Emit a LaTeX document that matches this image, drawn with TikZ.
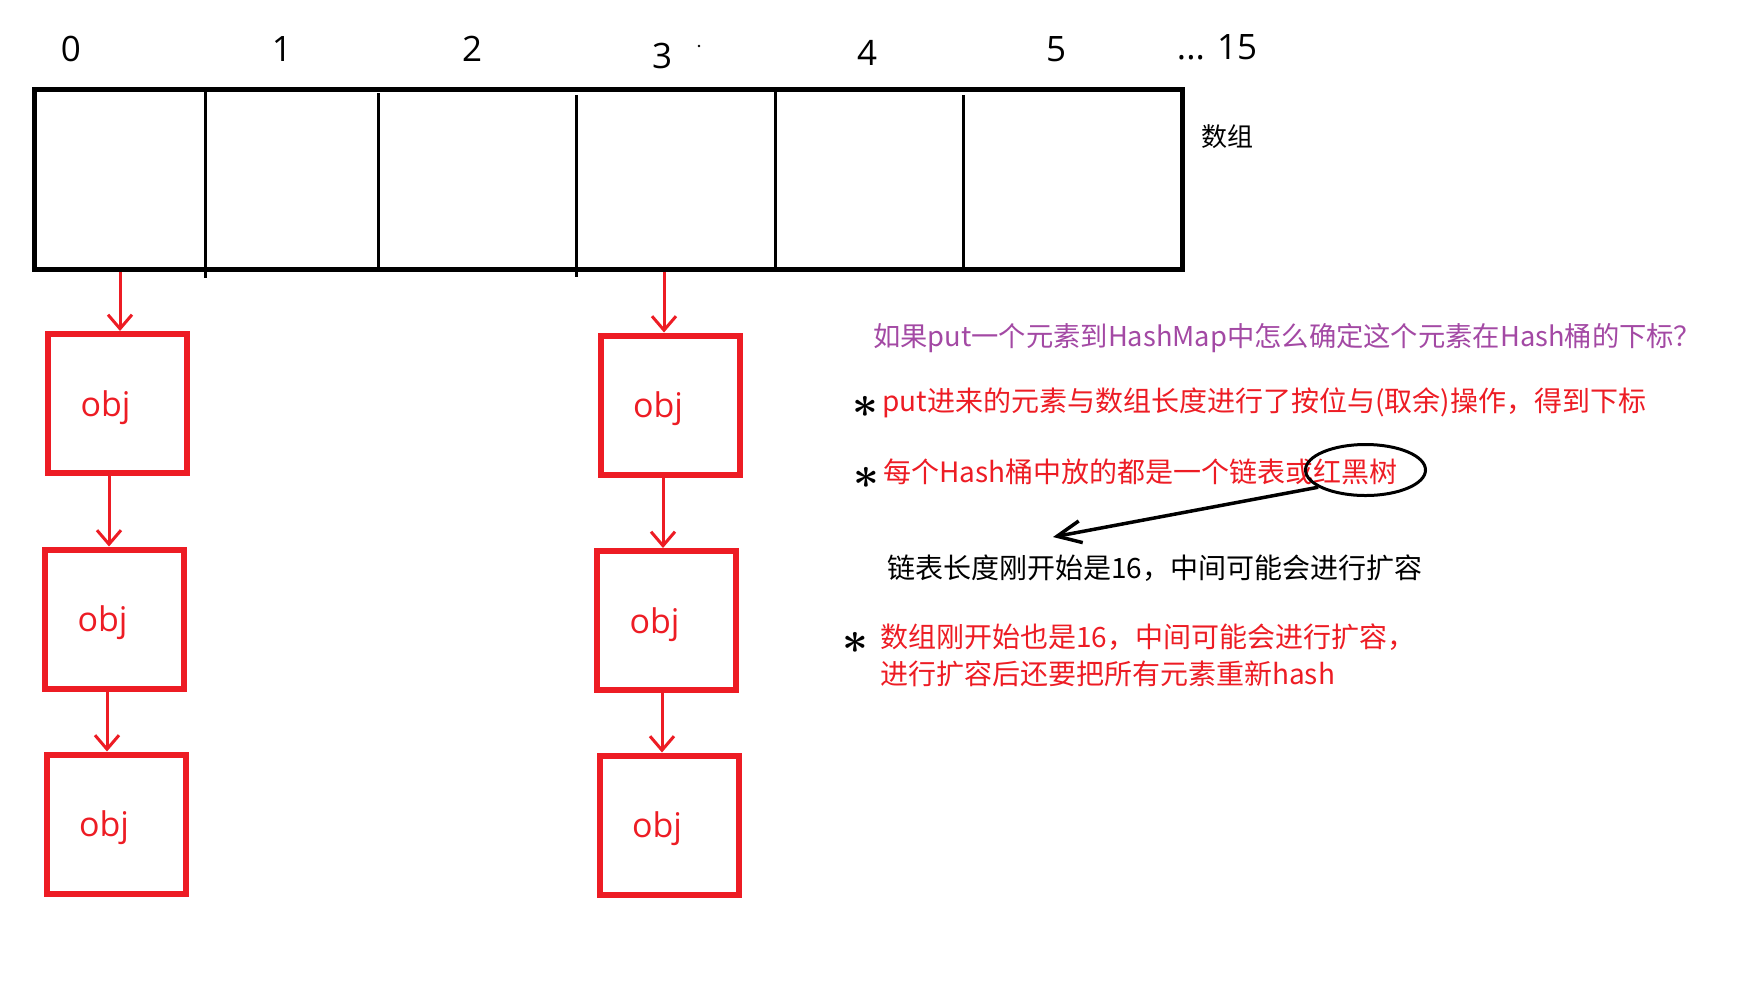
\documentclass[tikz,border=0pt]{standalone}
\usepackage{fontspec}
\usepackage{xcolor}
\usepackage{tikz}
\usetikzlibrary{arrows.meta,shapes.geometric,calc}

\newfontfamily\cjk{Noto Sans CJK SC}
\newfontfamily\uifont{Open Sans}
\definecolor{hmred}{RGB}{237,28,36}
\definecolor{hmpurple}{RGB}{163,73,164}

\begin{document}
\begin{tikzpicture}[
  x=1pt, y=-1pt,
  arraybox/.style={
    rectangle,
    draw=black,
    line width=5pt,
    minimum width=1148pt,
    minimum height=180pt,
    inner sep=0pt
  },
  divider/.style={line width=3pt},
  idx/.style={font=\uifont\fontsize{35}{40}\selectfont, inner sep=0pt},
  objbox/.style={
    rectangle,
    draw=hmred, line width=6pt,
    minimum width=139pt, minimum height=139pt,
    inner sep=0pt
  },
  objtext/.style={font=\uifont\fontsize{34}{40}\selectfont, text=hmred, inner sep=0pt},
  redarrow/.style={-{Straight Barb[length=14pt, width=24pt]}, hmred, line width=3pt},
  tiparrow/.style={-{Straight Barb[length=24pt, width=22pt]}, black, line width=3.5pt},
  note/.style={font=\cjk\fontsize{28}{37}\selectfont, anchor=west, inner sep=0pt, align=left},
  star/.style={font=\fontsize{24}{24}\selectfont\boldmath, inner sep=0pt}
]
\useasboundingbox (0,0) rectangle (1745,1005);

% --- Array: 16 slots ---
\node[arraybox] (arr) at (608.5,179.5) {};
\foreach \x/\ya/\yb in {205/92/278, 378/93/269, 576/95/277, 775/92/269, 963/95/269}
  \draw[divider] (\x,\ya) -- (\x,\yb);

\foreach \i/\x/\y in {0/71/49, 1/282/49, 2/472/49, 3/662/56, 4/867/53, 5/1056/49}
  \node[idx] (i\i) at (\x,\y) {\i};
\node[idx] (i15) at (1217,47) {... 15};
\fill (699,46) circle (1.3pt);
\node[font=\cjk\fontsize{26}{30}\selectfont, inner sep=0pt] (arrname) at (1227,137) {数组};

% --- Buckets: linked lists of obj ---
\foreach \n/\x/\y in {lb1/117.5/403.5, lb2/114.5/619, lb3/116/824, rb1/670/405, rb2/666.5/620.5, rb3/669/825} {
  \node[objbox] (\n) at (\x,\y) {};
  \node[objtext] (t\n) at ($(\n)+(-12,4)$) {obj};
}

\foreach \a/\b/\d in {arr/lb1/2.5, lb1/lb2/-5.5, lb2/lb3/-9, arr/rb1/-6, rb1/rb2/-3.5, rb2/rb3/-7}
  \draw[redarrow] ([xshift=\d]\b.north |- \a.south) -- ([xshift=\d]\b.north);

% --- Notes ---
\node[note, text=hmpurple, font=\cjk\fontsize{27.3}{34}\selectfont] (title) at (873,338) {如果put一个元素到HashMap中怎么确定这个元素在Hash桶的下标？};

\node[star] (s1) at (865,407) {\scalebox{1.8}{$\ast$}};
\node[note, text=hmred] (q1) at (882,403) {put进来的元素与数组长度进行了按位与(取余)操作，得到下标};

\node[star] (s2) at (866,478) {\scalebox{1.8}{$\ast$}};
\node[note, text=hmred] (q2) at (883,472) {每个Hash桶中放的都是一个链表或红黑树};

\node[ellipse, draw, line width=3pt, minimum width=120pt, minimum height=51pt, inner sep=0pt] (rbt) at (1365.5,470) {};
\coordinate (tip) at (1053,537);
\draw[tiparrow] (rbt.200) -- (tip);

\node[note] (len) at (887,568) {链表长度刚开始是16，中间可能会进行扩容};

\node[star] (s3) at (855,643) {\scalebox{1.8}{$\ast$}};
\node[note, text=hmred] (q3) at (880,655.5) {数组刚开始也是16，中间可能会进行扩容，\\进行扩容后还要把所有元素重新hash};

\end{tikzpicture}
\end{document}
